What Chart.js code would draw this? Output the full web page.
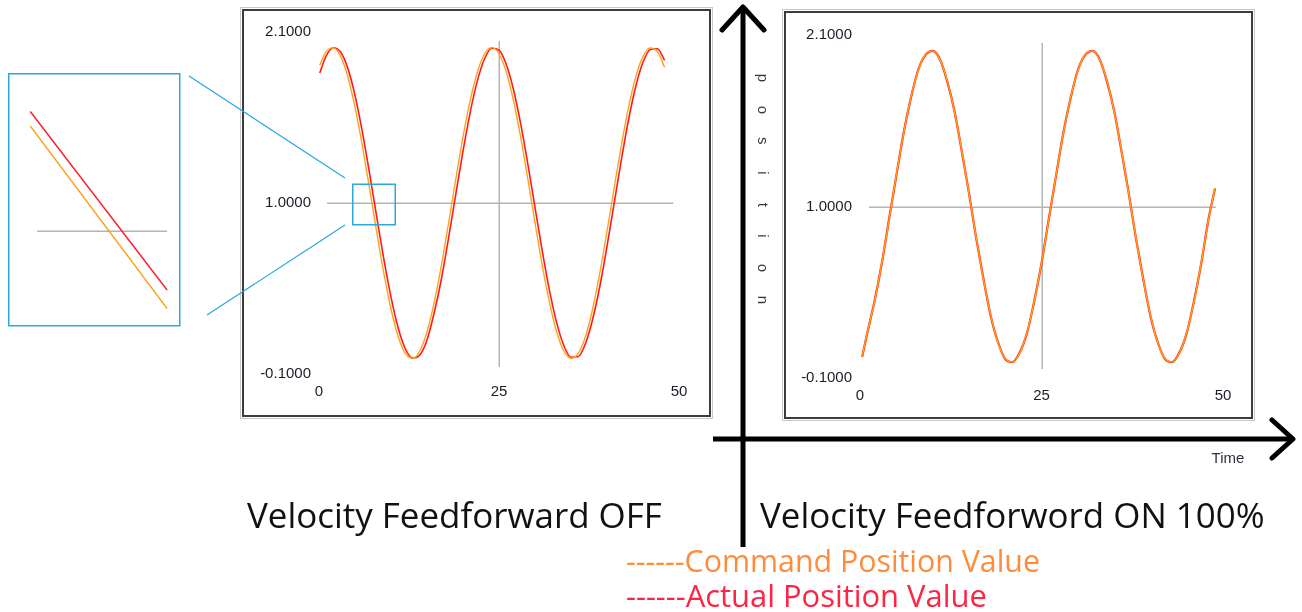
<!DOCTYPE html>
<html>
<head>
<meta charset="utf-8">
<script src="https://cdn.jsdelivr.net/npm/chart.js@4.4.1/dist/chart.umd.min.js"></script>
<style>
html, body { margin: 0; padding: 0; background: #fff; }
body { width: 1302px; height: 612px; position: relative; overflow: hidden; font-family: "Open Sans", sans-serif; }
.frame { position: absolute; border: 2px solid #3c3c3c; box-shadow: 0 0 0 1px #fff, 0 0 0 2px #c8c8c8; background: #fff; }
.frame canvas, #inset { display: block; }
#inset { position: absolute; left: 9px; top: 74px; }
.txt { position: absolute; white-space: nowrap; line-height: 1; }
#word { position: absolute; left: 753px; top: 62px; width: 20px; font: 15px "Liberation Sans", sans-serif; color: #3a3548; }
#word span { display: block; height: 31.7px; line-height: 31.7px; text-align: center; transform: rotate(90deg); }
#timeLbl { position: absolute; left: 1203px; top: 449px; width: 50px; text-align: center; font: 15px "Liberation Sans", sans-serif; color: #33303f; }
svg { position: absolute; left: 0; top: 0; pointer-events: none; }
</style>
</head>
<body>

<div class="frame" style="left:242px;top:9px;width:465px;height:404px"><canvas id="leftChart" width="465" height="404"></canvas></div>
<div class="frame" style="left:784px;top:11px;width:465px;height:404px"><canvas id="rightChart" width="465" height="404"></canvas></div>
<canvas id="inset" width="170" height="251"></canvas>

<svg width="1302" height="612">
  <g fill="none" stroke="#2aa8e0" stroke-width="1.5">
    <rect x="8.75" y="73.75" width="171" height="252"/>
    <rect x="352.75" y="184.25" width="42.5" height="40.5"/>
    <line x1="189" y1="76" x2="345" y2="178" stroke-width="1.2"/>
    <line x1="207" y1="315" x2="345" y2="225" stroke-width="1.2"/>
  </g>
  <g fill="none" stroke="#000" stroke-width="5" stroke-linecap="round" stroke-linejoin="round">
    <line x1="743" y1="7" x2="743" y2="547" stroke-linecap="butt"/>
    <polyline points="722,30 743,7 764,30"/>
    <line x1="713" y1="439" x2="1290" y2="439" stroke-linecap="butt"/>
    <polyline points="1272,420 1293,439 1272,458"/>
  </g>
</svg>

<div id="word"><span>p</span><span>o</span><span>s</span><span>i</span><span>t</span><span>i</span><span>o</span><span>n</span></div>
<div id="timeLbl">Time</div>

<div class="txt title" id="t1" data-w="415" data-b="529" style="left:247px;color:#111">Velocity Feedforward OFF</div>
<div class="txt title" id="t2" data-b="529" style="left:760px;color:#111">Velocity Feedforword ON 100%</div>
<div class="txt fit" data-w="414" data-b="573" style="left:626px;color:#ff8c3a">------Command Position Value</div>
<div class="txt fit" data-w="361" data-b="607" style="left:626px;color:#ff2446">------Actual Position Value</div>

<script>
// axis ticks
const xTicks = [0, 25, 50];
const yTicks = [-0.1, 1.0, 2.1];

// Velocity Feedforward OFF
const leftTime = [0.1, 1, 2, 3, 4, 5, 6, 7, 8, 9, 10, 11, 12, 13, 14, 15, 16, 17, 18, 19, 20, 21, 22, 23, 24,
  25, 26, 27, 28, 29, 30, 31, 32, 33, 34, 35, 36, 37, 38, 39, 40, 41, 42, 43, 44, 45, 46, 47, 48];
const leftCommand = [1.886, 1.974, 1.998, 1.943, 1.812, 1.617, 1.373, 1.099, 0.817, 0.549, 0.318, 0.140, 0.032, 0.000,
  0.048, 0.172, 0.361, 0.599, 0.873, 1.155, 1.425, 1.660, 1.843, 1.960, 2.000, 1.960, 1.844, 1.661, 1.425, 1.155,
  0.873, 0.601, 0.362, 0.172, 0.048, 0.000, 0.032, 0.140, 0.318, 0.550, 0.817, 1.099, 1.373, 1.617, 1.812, 1.943,
  1.998, 1.974, 1.873];
const leftActual = [1.836, 1.947, 1.999, 1.971, 1.866, 1.692, 1.463, 1.197, 0.915, 0.640, 0.395, 0.196, 0.061, 0.003,
  0.022, 0.119, 0.294, 0.511, 0.776, 1.057, 1.333, 1.583, 1.787, 1.928, 1.995, 1.983, 1.893, 1.732, 1.512, 1.252,
  0.972, 0.694, 0.440, 0.232, 0.083, 0.008, 0.012, 0.095, 0.251, 0.463, 0.721, 1.000, 1.279, 1.537, 1.751, 1.905,
  1.988, 1.992, 1.917];

// Velocity Feedforword ON 100%
const rightTime = [0.3, 1, 2, 3, 4, 5, 6, 7, 8, 9, 10, 11, 12, 13, 14, 15, 16, 17, 18, 19, 20, 21, 22, 23, 24,
  25, 26, 27, 28, 29, 30, 31, 32, 33, 34, 35, 36, 37, 38, 39, 40, 41, 42, 43, 44, 45, 46, 47, 48, 48.9];
const rightCommand = [0.040, 0.191, 0.389, 0.637, 0.915, 1.199, 1.467, 1.697, 1.871, 1.974, 1.998, 1.942, 1.809, 1.611,
  1.363, 1.086, 0.802, 0.534, 0.303, 0.128, 0.026, 0.002, 0.060, 0.191, 0.389, 0.637, 0.915, 1.199, 1.467, 1.697,
  1.871, 1.974, 1.998, 1.942, 1.809, 1.611, 1.363, 1.086, 0.802, 0.534, 0.303, 0.128, 0.026, 0.002, 0.060, 0.191,
  0.389, 0.637, 0.915, 1.120];
const rightActual = [0.036, 0.188, 0.392, 0.634, 0.918, 1.196, 1.470, 1.694, 1.874, 1.971, 1.998, 1.945, 1.806, 1.614,
  1.360, 1.089, 0.799, 0.537, 0.300, 0.131, 0.023, 0.002, 0.063, 0.188, 0.392, 0.634, 0.918, 1.196, 1.470, 1.694,
  1.874, 1.971, 1.998, 1.945, 1.806, 1.614, 1.360, 1.089, 0.799, 0.537, 0.300, 0.131, 0.023, 0.002, 0.063, 0.188,
  0.392, 0.634, 0.918, 1.116];

// zoomed inset (around the first 1.0 crossing)
const insetTime = [6.25, 7.86];
const insetCommand = [1.210, 0.845];
const insetActual = [1.239, 0.882];

const pts = (xs, ys) => xs.map((x, i) => ({ x: x, y: ys[i] }));

// grey cross lines at 25 / 1.0, drawn through the scales
const crossLines = {
  id: 'crossLines',
  beforeDatasetsDraw(chart, args, o) {
    const { ctx, scales: { x, y } } = chart;
    ctx.save();
    ctx.strokeStyle = '#b4b4b4';
    ctx.lineWidth = 1.5;
    ctx.beginPath();
    if (o.yAt !== undefined) {
      const py = Math.round(y.getPixelForValue(o.yAt)) + 0.25;
      ctx.moveTo(x.getPixelForValue(o.xFrom), py);
      ctx.lineTo(x.getPixelForValue(o.xTo), py);
    }
    if (o.xAt !== undefined) {
      const px = Math.round(x.getPixelForValue(o.xAt)) + 0.25;
      ctx.moveTo(px, y.getPixelForValue(o.yFrom));
      ctx.lineTo(px, y.getPixelForValue(o.yTo));
    }
    ctx.stroke();
    ctx.restore();
  }
};

Chart.defaults.font.family = '"Liberation Sans", Arial, sans-serif';

function tickFont() { return { family: '"Liberation Sans", Arial, sans-serif', size: 15 }; }

function makeChart(id, time, command, actual, cross, yWidth, pad, redWidth) {
  return new Chart(document.getElementById(id), {
    type: 'line',
    data: {
      datasets: [
        { label: 'Actual Position Value', data: pts(time, actual), borderColor: '#ff1a1a', borderWidth: redWidth, pointRadius: 0, cubicInterpolationMode: 'monotone', order: 2 },
        { label: 'Command Position Value', data: pts(time, command), borderColor: '#ffa21c', borderWidth: 1.4, pointRadius: 0, cubicInterpolationMode: 'monotone', order: 1 }
      ]
    },
    options: {
      responsive: false,
      animation: false,
      layout: { padding: pad },
      plugins: { legend: { display: false }, tooltip: { enabled: false }, crossLines: cross },
      scales: {
        x: {
          type: 'linear', min: 0, max: 50,
          afterBuildTicks: s => { s.ticks = xTicks.map(v => ({ value: v })); },
          afterFit: s => { s.height = 30; },
          grid: { display: false, drawTicks: false },
          border: { display: false },
          ticks: { padding: 9, font: tickFont(), color: '#1c1c28', maxRotation: 0, autoSkip: false }
        },
        y: {
          type: 'linear', min: -0.1, max: 2.1,
          afterBuildTicks: s => { s.ticks = yTicks.map(v => ({ value: v })); },
          afterFit: s => { s.width = yWidth; },
          grid: { display: false, drawTicks: false },
          border: { display: false },
          ticks: { padding: 8, font: tickFont(), color: '#1c1c28', callback: v => v.toFixed(4) }
        }
      }
    },
    plugins: [crossLines]
  });
}

makeChart('leftChart', leftTime, leftCommand, leftActual,
  { yAt: 1.0, xFrom: 1.1, xTo: 49.2, xAt: 25, yFrom: 2.042, yTo: -0.055 },
  75, { top: 21, right: 30, bottom: 11, left: 0 }, 1.6);

makeChart('rightChart', rightTime, rightCommand, rightActual,
  { yAt: 1.0, xFrom: 1.24, xTo: 49.0, xAt: 25, yFrom: 2.049, yTo: -0.042 },
  74, { top: 22, right: 28, bottom: 9, left: 0 }, 2.2);

new Chart(document.getElementById('inset'), {
  type: 'line',
  data: {
    datasets: [
      { data: pts(insetTime, insetActual), borderColor: '#ff1a2a', borderWidth: 1.4, pointRadius: 0 },
      { data: pts(insetTime, insetCommand), borderColor: '#ffa21c', borderWidth: 1.4, pointRadius: 0 }
    ]
  },
  options: {
    responsive: false,
    animation: false,
    layout: { padding: 0 },
    plugins: { legend: { display: false }, tooltip: { enabled: false }, crossLines: { yAt: 1.0, xFrom: 6.33, xTo: 7.86 } },
    scales: {
      x: { type: 'linear', display: false, min: 6.0, max: 8.0 },
      y: { type: 'linear', display: false, min: 0.812, max: 1.314 }
    }
  },
  plugins: [crossLines]
});

// fit captions to the reference widths, then place them by baseline
function place(el, f) {
  el.style.fontSize = f + 'px';
  el.style.top = (+el.dataset.b - 0.888 * f) + 'px';
}
function fitSize(el) {
  el.style.fontSize = '32px';
  return 32 * (+el.dataset.w) / el.getBoundingClientRect().width;
}
const t1 = document.getElementById('t1');
const titleSize = fitSize(t1);
place(t1, titleSize);
place(document.getElementById('t2'), titleSize);
document.querySelectorAll('.fit').forEach(el => place(el, fitSize(el)));
</script>
</body>
</html>
